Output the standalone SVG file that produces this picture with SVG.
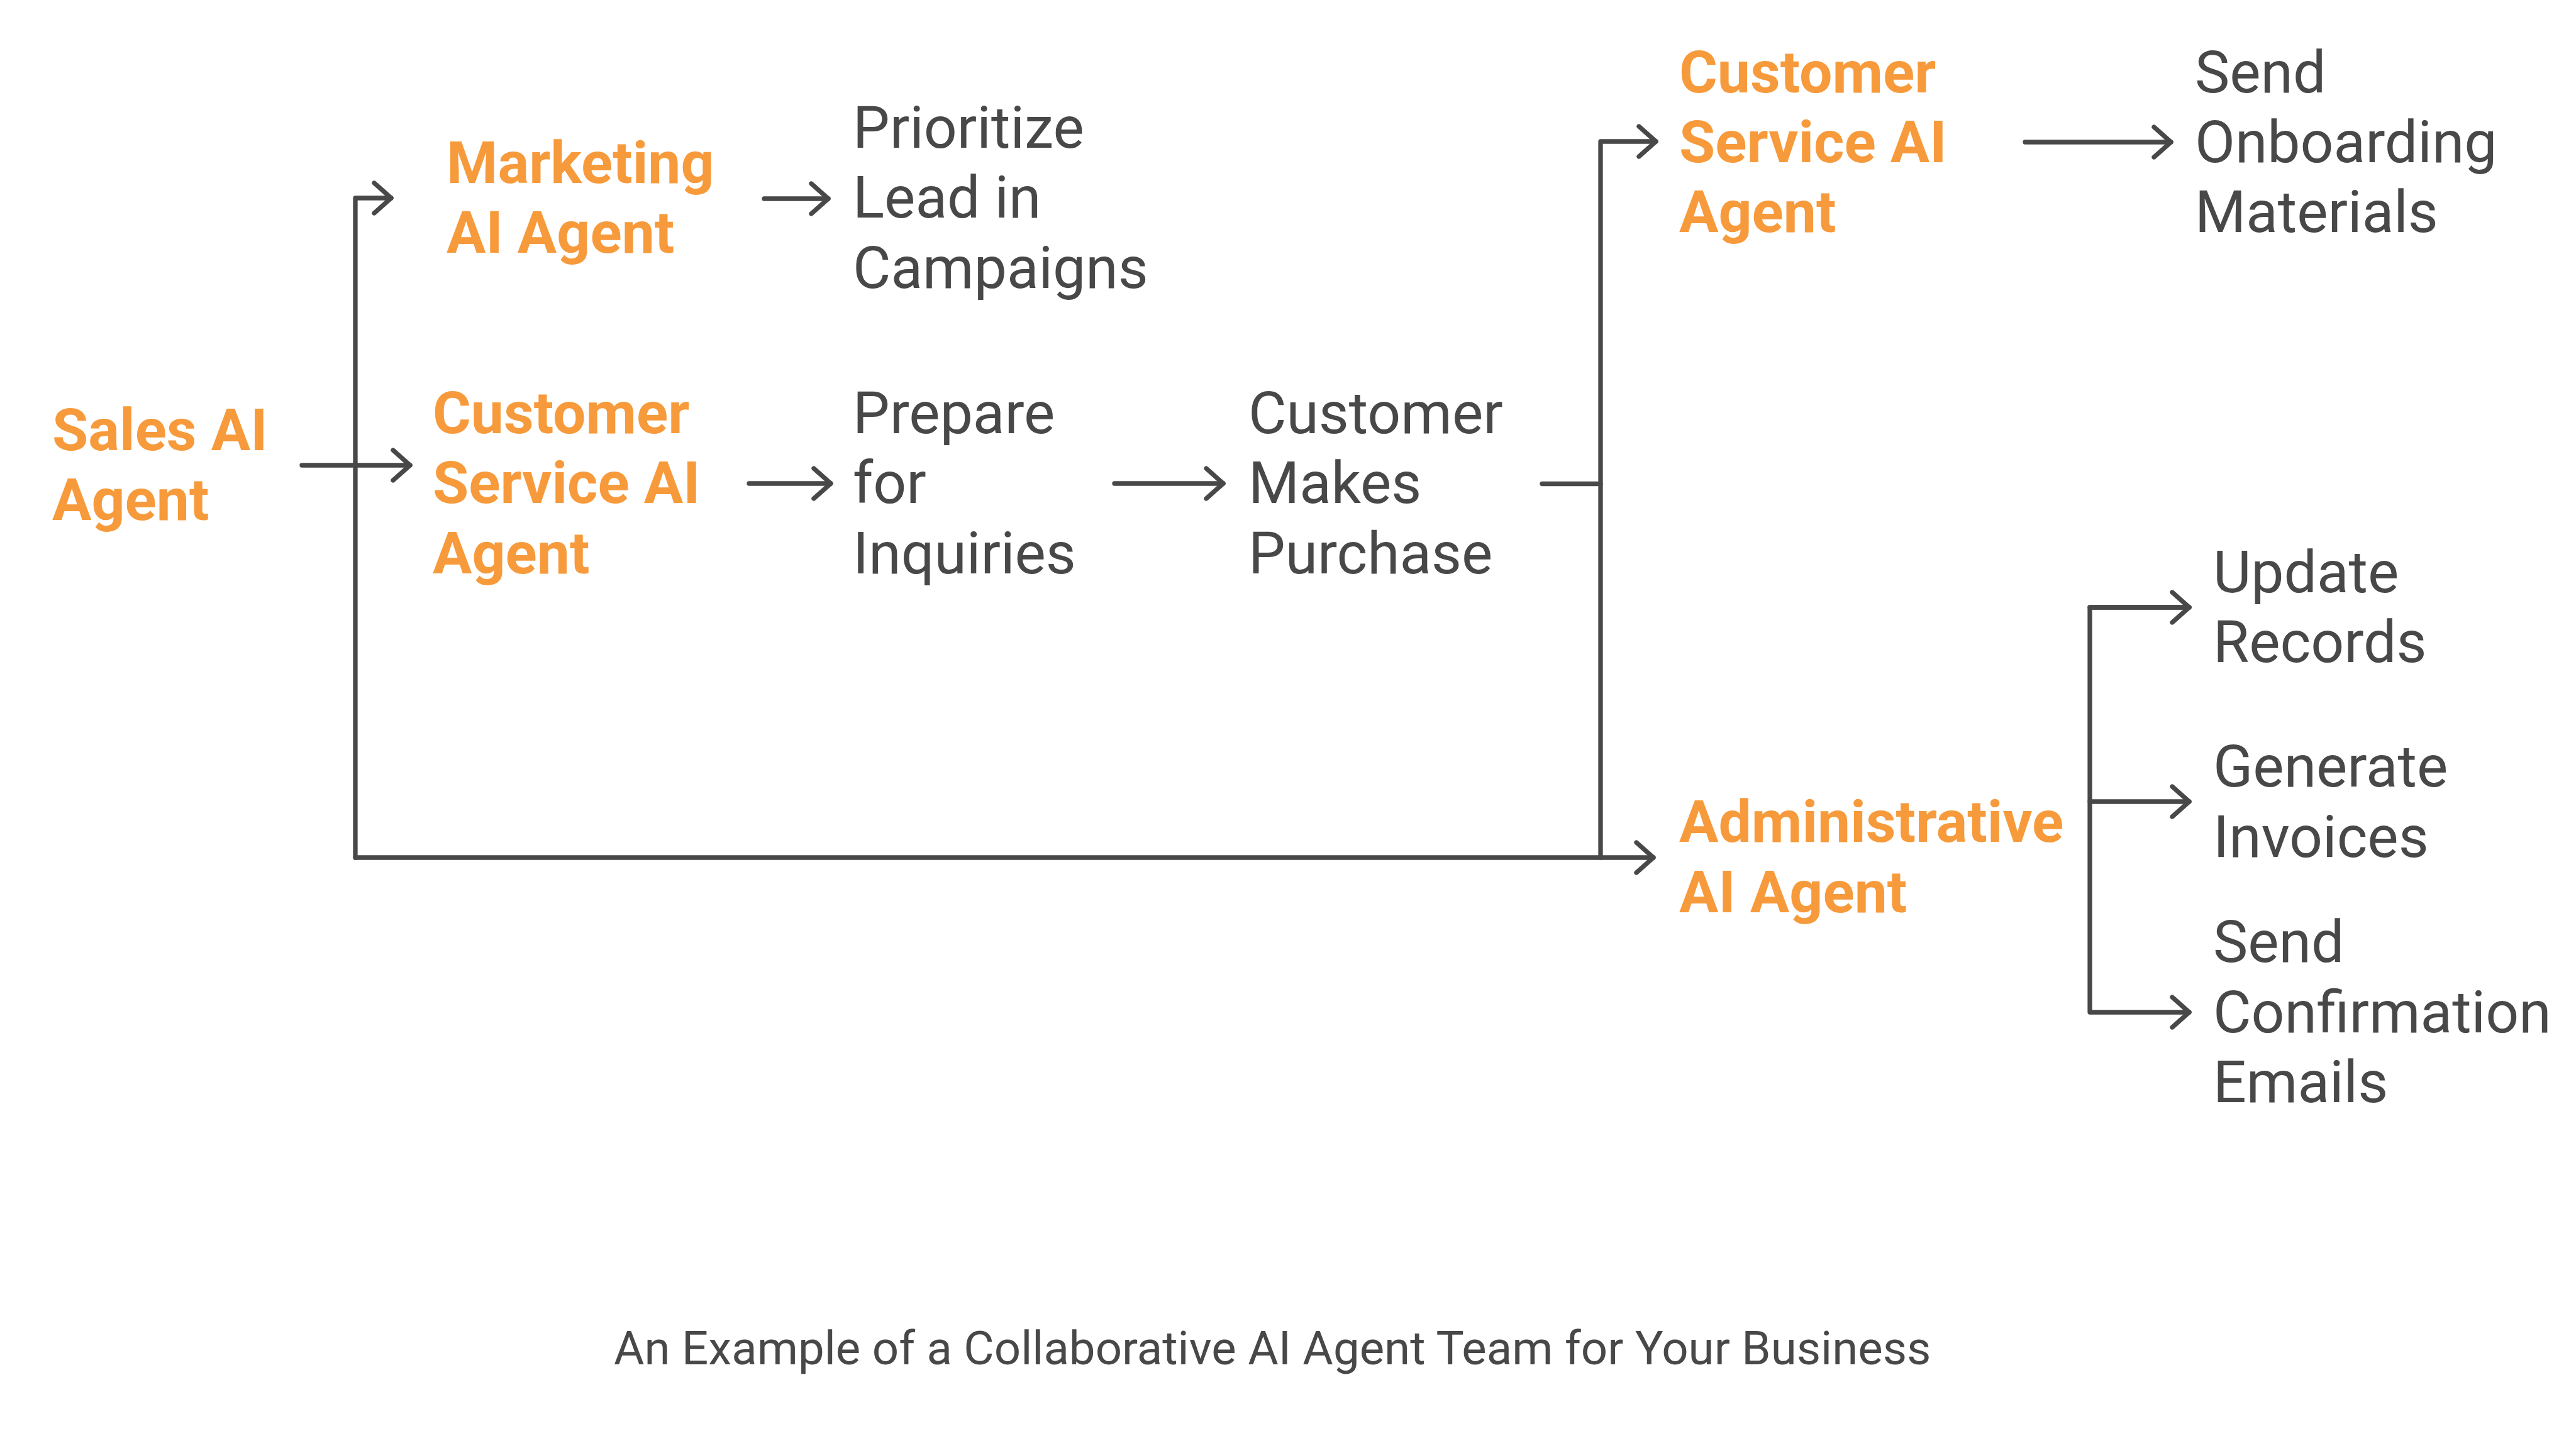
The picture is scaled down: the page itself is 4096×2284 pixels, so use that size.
<svg xmlns="http://www.w3.org/2000/svg" width="4096" height="2284" viewBox="0 0 4096 2284">
  <defs>
    <style>
      .agent { font-family: Roboto, "Liberation Sans", sans-serif; font-weight: 700; font-size: 93px; fill: #F79A3B; }
      .task { font-family: Roboto, "Liberation Sans", sans-serif; font-weight: 400; font-size: 93px; fill: #484848; }
      .caption { font-family: Roboto, "Liberation Sans", sans-serif; font-weight: 400; font-size: 74.4px; fill: #484848; }
      .conn { fill: none; stroke: #484848; stroke-width: 7.3; stroke-linecap: round; stroke-linejoin: round; }
    </style>
    <marker id="arrow" markerUnits="userSpaceOnUse" orient="auto" refX="0" refY="0" markerWidth="80" markerHeight="80" overflow="visible">
      <path d="M-27,-24 L0,0 L-27,24" fill="none" stroke="#484848" stroke-width="7.3" stroke-linecap="round" stroke-linejoin="round"/>
    </marker>
  </defs>
  <rect width="4096" height="2284" fill="#ffffff"/>

  <g id="connectors">
    <path class="conn" d="M480,740 H652" marker-end="url(#arrow)"/>
    <path class="conn" d="M565,1364 V315 H622" marker-end="url(#arrow)"/>
    <path class="conn" d="M565,1364 H2629" marker-end="url(#arrow)"/>
    <path class="conn" d="M1215,316 H1317" marker-end="url(#arrow)"/>
    <path class="conn" d="M1191,769 H1321" marker-end="url(#arrow)"/>
    <path class="conn" d="M1772,769 H1945" marker-end="url(#arrow)"/>
    <path class="conn" d="M2452,769.5 H2545"/>
    <path class="conn" d="M2545,1364 V225 H2633" marker-end="url(#arrow)"/>
    <path class="conn" d="M3220,226 H3452" marker-end="url(#arrow)"/>
    <path class="conn" d="M3481,966 H3323 V1610 H3481" marker-end="url(#arrow)"/>
    <path class="conn" d="M3323,966 H3481" marker-end="url(#arrow)"/>
    <path class="conn" d="M3323,1275 H3481" marker-end="url(#arrow)"/>
  </g>

  <g id="sales-ai-agent">
    <text class="agent" x="83" y="716">Sales AI</text>
    <text class="agent" x="83" y="827">Agent</text>
  </g>
  <g id="marketing-ai-agent">
    <text class="agent" x="710" y="291">Marketing</text>
    <text class="agent" x="710" y="402">AI Agent</text>
  </g>
  <g id="customer-service-ai-agent-1">
    <text class="agent" x="688" y="689">Customer</text>
    <text class="agent" x="688" y="800">Service AI</text>
    <text class="agent" x="688" y="912">Agent</text>
  </g>
  <g id="prioritize-lead">
    <text class="task" x="1356" y="235">Prioritize</text>
    <text class="task" x="1356" y="346">Lead in</text>
    <text class="task" x="1356" y="458">Campaigns</text>
  </g>
  <g id="prepare-inquiries">
    <text class="task" x="1356" y="689">Prepare</text>
    <text class="task" x="1356" y="800">for</text>
    <text class="task" x="1356" y="912">Inquiries</text>
  </g>
  <g id="customer-makes-purchase">
    <text class="task" x="1985" y="689">Customer</text>
    <text class="task" x="1985" y="800">Makes</text>
    <text class="task" x="1985" y="912">Purchase</text>
  </g>
  <g id="customer-service-ai-agent-2">
    <text class="agent" x="2670" y="147">Customer</text>
    <text class="agent" x="2670" y="258">Service AI</text>
    <text class="agent" x="2670" y="369">Agent</text>
  </g>
  <g id="send-onboarding">
    <text class="task" x="3490" y="147">Send</text>
    <text class="task" x="3490" y="258">Onboarding</text>
    <text class="task" x="3490" y="369">Materials</text>
  </g>
  <g id="administrative-ai-agent">
    <text class="agent" x="2670" y="1339">Administrative</text>
    <text class="agent" x="2670" y="1451">AI Agent</text>
  </g>
  <g id="update-records">
    <text class="task" x="3519" y="942">Update</text>
    <text class="task" x="3519" y="1053">Records</text>
  </g>
  <g id="generate-invoices">
    <text class="task" x="3519" y="1251">Generate</text>
    <text class="task" x="3519" y="1363">Invoices</text>
  </g>
  <g id="send-confirmation">
    <text class="task" x="3519" y="1530">Send</text>
    <text class="task" x="3519" y="1642">Confirmation</text>
    <text class="task" x="3519" y="1753">Emails</text>
  </g>
  <g id="caption">
    <text class="caption" x="976" y="2170">An Example of a Collaborative AI Agent Team for Your Business</text>
  </g>
</svg>
